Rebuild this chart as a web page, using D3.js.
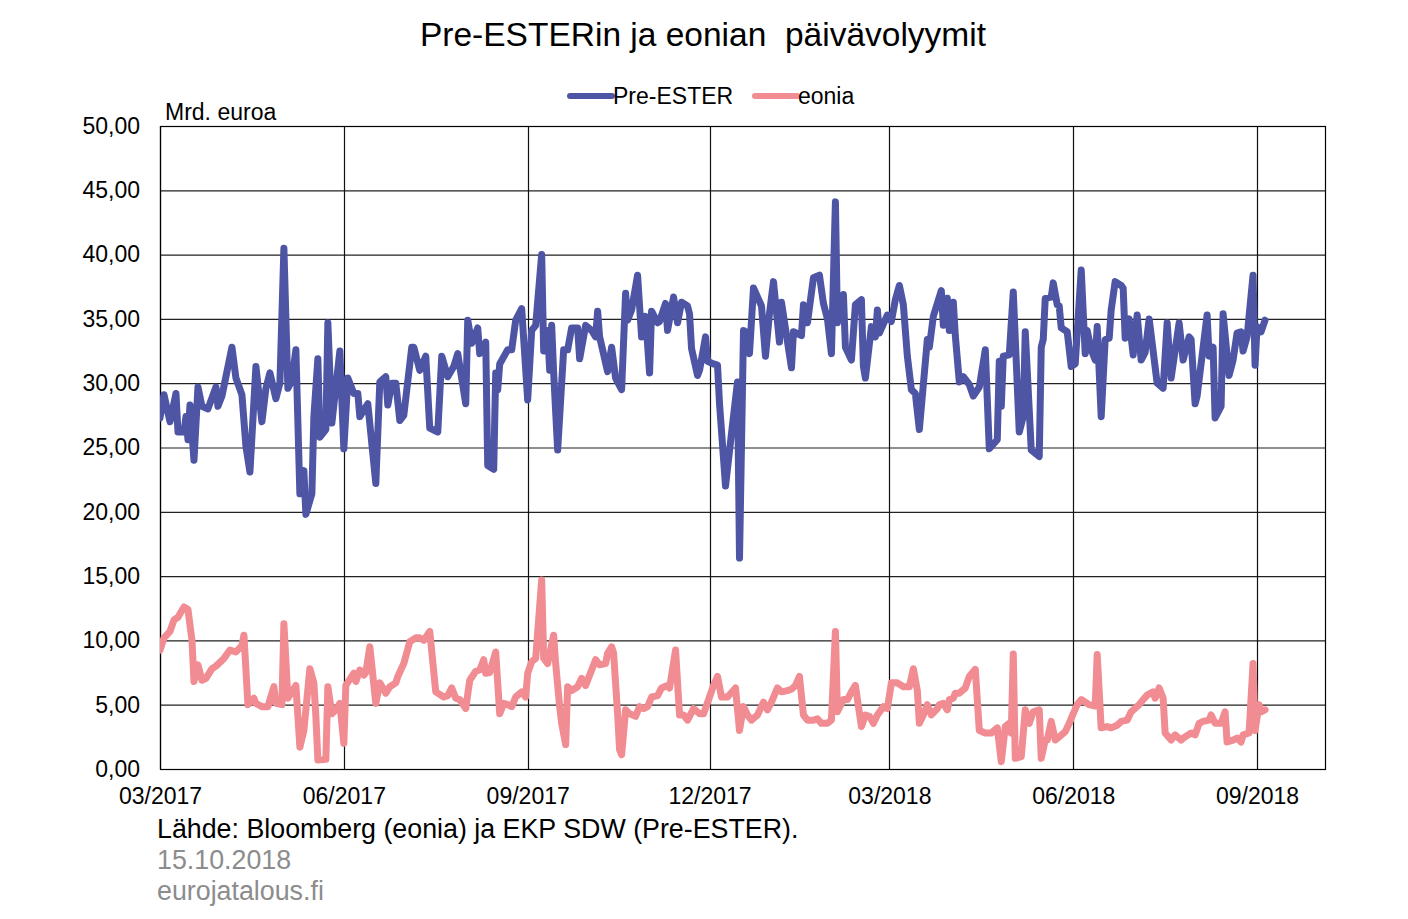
<!DOCTYPE html>
<html><head><meta charset="utf-8">
<script src="https://cdn.jsdelivr.net/npm/d3@7"></script>
<style>
html,body{margin:0;padding:0;background:#fff;}
svg{display:block;font-family:"Liberation Sans",Arial,sans-serif;}
</style></head>
<body>
<svg id="chart" width="1408" height="919"></svg>
<script>
const titleText = "Pre-ESTERin ja eonian  päivävolyymit";
const seriesNames = ["Pre-ESTER", "eonia"];
const yUnit = "Mrd. euroa";
const yTicks = [0,5,10,15,20,25,30,35,40,45,50];
const xTickDates = ["2017-03-01","2017-06-01","2017-09-01","2017-12-01","2018-03-01","2018-06-01","2018-09-01"];
const xTickLabels = ["03/2017","06/2017","09/2017","12/2017","03/2018","06/2018","09/2018"];
const footerLines = ["Lähde: Bloomberg (eonia) ja EKP SDW (Pre-ESTER).","15.10.2018","eurojatalous.fi"];

const preEsterDates = ["2017-03-01","2017-03-03","2017-03-06","2017-03-09","2017-03-10","2017-03-13","2017-03-14","2017-03-15","2017-03-16","2017-03-18","2017-03-20","2017-03-22","2017-03-25","2017-03-29","2017-03-30","2017-04-01","2017-04-06","2017-04-08","2017-04-11","2017-04-13","2017-04-15","2017-04-18","2017-04-21","2017-04-23","2017-04-25","2017-04-28","2017-04-30","2017-05-02","2017-05-04","2017-05-06","2017-05-08","2017-05-10","2017-05-12","2017-05-13","2017-05-16","2017-05-17","2017-05-19","2017-05-20","2017-05-23","2017-05-24","2017-05-26","2017-05-28","2017-05-30","2017-06-01","2017-06-03","2017-06-06","2017-06-08","2017-06-09","2017-06-11","2017-06-13","2017-06-17","2017-06-19","2017-06-22","2017-06-23","2017-06-25","2017-06-27","2017-06-29","2017-07-01","2017-07-05","2017-07-06","2017-07-09","2017-07-12","2017-07-14","2017-07-18","2017-07-20","2017-07-23","2017-07-26","2017-07-28","2017-08-01","2017-08-02","2017-08-04","2017-08-07","2017-08-08","2017-08-11","2017-08-12","2017-08-15","2017-08-16","2017-08-17","2017-08-18","2017-08-22","2017-08-24","2017-08-26","2017-08-29","2017-09-01","2017-09-03","2017-09-05","2017-09-08","2017-09-09","2017-09-11","2017-09-12","2017-09-13","2017-09-14","2017-09-16","2017-09-19","2017-09-21","2017-09-23","2017-09-26","2017-09-27","2017-09-30","2017-10-03","2017-10-05","2017-10-06","2017-10-07","2017-10-11","2017-10-13","2017-10-15","2017-10-18","2017-10-20","2017-10-21","2017-10-23","2017-10-26","2017-10-28","2017-10-30","2017-11-01","2017-11-02","2017-11-05","2017-11-06","2017-11-09","2017-11-10","2017-11-13","2017-11-15","2017-11-17","2017-11-20","2017-11-21","2017-11-22","2017-11-25","2017-11-26","2017-11-29","2017-11-30","2017-12-03","2017-12-05","2017-12-06","2017-12-09","2017-12-12","2017-12-15","2017-12-16","2017-12-18","2017-12-19","2017-12-21","2017-12-23","2017-12-27","2017-12-29","2017-12-31","2018-01-02","2018-01-05","2018-01-06","2018-01-11","2018-01-12","2018-01-16","2018-01-17","2018-01-19","2018-01-22","2018-01-25","2018-01-27","2018-01-29","2018-01-31","2018-02-02","2018-02-03","2018-02-06","2018-02-07","2018-02-10","2018-02-12","2018-02-15","2018-02-16","2018-02-17","2018-02-20","2018-02-22","2018-02-23","2018-02-24","2018-02-28","2018-03-02","2018-03-04","2018-03-06","2018-03-08","2018-03-10","2018-03-12","2018-03-14","2018-03-16","2018-03-20","2018-03-21","2018-03-23","2018-03-27","2018-03-28","2018-03-30","2018-03-31","2018-04-02","2018-04-03","2018-04-05","2018-04-07","2018-04-10","2018-04-12","2018-04-15","2018-04-18","2018-04-20","2018-04-24","2018-04-25","2018-04-26","2018-04-27","2018-04-30","2018-05-02","2018-05-05","2018-05-07","2018-05-08","2018-05-10","2018-05-11","2018-05-15","2018-05-16","2018-05-17","2018-05-18","2018-05-21","2018-05-22","2018-05-24","2018-05-25","2018-05-26","2018-05-29","2018-05-31","2018-06-02","2018-06-05","2018-06-07","2018-06-08","2018-06-10","2018-06-12","2018-06-13","2018-06-15","2018-06-17","2018-06-19","2018-06-20","2018-06-22","2018-06-25","2018-06-26","2018-06-27","2018-06-29","2018-07-01","2018-07-03","2018-07-05","2018-07-07","2018-07-09","2018-07-13","2018-07-16","2018-07-18","2018-07-20","2018-07-24","2018-07-26","2018-07-29","2018-07-30","2018-08-01","2018-08-02","2018-08-07","2018-08-08","2018-08-10","2018-08-11","2018-08-14","2018-08-15","2018-08-18","2018-08-20","2018-08-22","2018-08-24","2018-08-25","2018-08-27","2018-08-30","2018-08-31","2018-09-01","2018-09-03","2018-09-05"];
const preEsterValues = [27.3,29.1,27.0,29.2,26.2,26.2,27.4,25.6,28.3,24.0,29.7,28.2,28.0,29.7,28.2,29.0,32.8,30.4,29.1,25.1,23.1,31.3,27.0,29.6,30.8,28.8,30.0,40.5,29.6,30.2,32.6,21.4,23.2,19.8,21.4,27.4,31.9,25.8,26.4,34.7,26.9,29.7,32.5,24.9,30.4,29.2,29.2,27.4,27.9,28.4,22.2,30.1,30.5,28.3,30.0,30.0,27.1,27.5,32.8,32.8,31.0,32.1,26.5,26.2,32.1,30.5,31.3,32.3,28.4,34.9,33.1,34.3,32.3,33.2,23.6,23.3,30.8,29.5,31.5,32.6,32.6,34.9,35.8,28.7,34.1,34.5,40.0,32.5,34.1,31.0,34.5,30.8,24.8,32.6,32.6,34.3,34.3,31.9,34.5,34.1,33.6,35.6,33.6,30.9,32.8,30.4,29.5,37.0,34.9,35.7,38.4,33.6,35.2,30.8,35.6,34.7,34.8,36.2,34.1,36.7,34.7,36.3,36.0,35.4,32.7,30.6,31.0,33.6,31.7,31.5,31.4,28.4,22.0,26.1,30.1,16.4,34.1,34.0,32.3,37.4,36.0,32.1,35.4,37.9,33.2,36.3,31.2,34.0,33.7,36.1,34.7,38.2,38.4,36.2,35.0,32.3,44.1,34.7,36.9,32.8,31.8,36.1,36.5,31.3,30.4,34.4,33.6,35.7,33.9,35.3,34.8,36.5,37.6,36.1,32.1,29.5,29.2,26.4,33.4,32.8,35.2,37.2,34.5,36.6,34.1,36.3,33.7,30.1,30.5,29.9,29.0,29.7,32.6,24.9,25.6,31.7,28.2,32.1,32.2,37.1,26.2,27.4,34.0,27.9,24.8,24.3,32.8,33.4,36.6,36.7,37.8,36.1,36.0,34.3,34.0,31.3,31.5,38.8,32.3,34.1,32.6,31.8,34.4,27.4,33.4,33.5,35.7,37.9,37.6,37.4,33.5,35.0,32.2,35.3,31.8,32.4,35.0,30.0,29.6,34.7,30.4,34.7,31.8,33.6,33.4,28.4,29.0,35.3,32.1,32.8,27.3,28.2,35.4,30.6,31.8,33.9,34.0,32.5,33.6,38.4,31.4,34.4,34.0,34.9];

const eoniaDates = ["2017-03-01","2017-03-03","2017-03-06","2017-03-08","2017-03-10","2017-03-13","2017-03-15","2017-03-17","2017-03-18","2017-03-20","2017-03-22","2017-03-24","2017-03-27","2017-03-29","2017-04-02","2017-04-05","2017-04-08","2017-04-11","2017-04-12","2017-04-14","2017-04-17","2017-04-18","2017-04-21","2017-04-24","2017-04-27","2017-04-28","2017-05-01","2017-05-02","2017-05-04","2017-05-06","2017-05-08","2017-05-10","2017-05-12","2017-05-15","2017-05-17","2017-05-18","2017-05-19","2017-05-23","2017-05-24","2017-05-26","2017-05-28","2017-05-30","2017-06-01","2017-06-02","2017-06-06","2017-06-07","2017-06-09","2017-06-11","2017-06-12","2017-06-14","2017-06-17","2017-06-19","2017-06-22","2017-06-24","2017-06-27","2017-06-28","2017-07-01","2017-07-04","2017-07-07","2017-07-09","2017-07-11","2017-07-14","2017-07-17","2017-07-21","2017-07-23","2017-07-25","2017-07-27","2017-07-29","2017-08-01","2017-08-03","2017-08-06","2017-08-08","2017-08-10","2017-08-11","2017-08-13","2017-08-16","2017-08-18","2017-08-20","2017-08-22","2017-08-24","2017-08-26","2017-08-29","2017-08-31","2017-09-01","2017-09-03","2017-09-05","2017-09-08","2017-09-09","2017-09-11","2017-09-14","2017-09-15","2017-09-17","2017-09-18","2017-09-20","2017-09-21","2017-09-23","2017-09-26","2017-09-28","2017-09-30","2017-10-03","2017-10-05","2017-10-07","2017-10-10","2017-10-11","2017-10-13","2017-10-14","2017-10-16","2017-10-17","2017-10-18","2017-10-20","2017-10-22","2017-10-25","2017-10-27","2017-10-29","2017-10-31","2017-11-02","2017-11-05","2017-11-07","2017-11-10","2017-11-11","2017-11-14","2017-11-16","2017-11-18","2017-11-20","2017-11-23","2017-11-26","2017-11-28","2017-12-01","2017-12-03","2017-12-05","2017-12-07","2017-12-10","2017-12-14","2017-12-16","2017-12-18","2017-12-20","2017-12-22","2017-12-25","2017-12-28","2017-12-30","2018-01-01","2018-01-04","2018-01-06","2018-01-09","2018-01-11","2018-01-13","2018-01-15","2018-01-17","2018-01-19","2018-01-22","2018-01-24","2018-01-26","2018-01-29","2018-01-31","2018-02-02","2018-02-03","2018-02-06","2018-02-08","2018-02-10","2018-02-12","2018-02-15","2018-02-17","2018-02-19","2018-02-21","2018-02-23","2018-02-26","2018-02-28","2018-03-02","2018-03-05","2018-03-08","2018-03-11","2018-03-13","2018-03-15","2018-03-16","2018-03-18","2018-03-20","2018-03-22","2018-03-25","2018-03-26","2018-03-28","2018-03-30","2018-03-31","2018-04-02","2018-04-03","2018-04-05","2018-04-08","2018-04-10","2018-04-13","2018-04-15","2018-04-18","2018-04-21","2018-04-24","2018-04-26","2018-04-28","2018-04-30","2018-05-01","2018-05-02","2018-05-03","2018-05-06","2018-05-08","2018-05-10","2018-05-12","2018-05-15","2018-05-16","2018-05-18","2018-05-19","2018-05-21","2018-05-23","2018-05-25","2018-05-28","2018-05-30","2018-06-01","2018-06-03","2018-06-05","2018-06-08","2018-06-09","2018-06-12","2018-06-13","2018-06-15","2018-06-18","2018-06-20","2018-06-23","2018-06-25","2018-06-28","2018-06-30","2018-07-04","2018-07-06","2018-07-08","2018-07-11","2018-07-12","2018-07-14","2018-07-16","2018-07-17","2018-07-20","2018-07-22","2018-07-25","2018-07-27","2018-07-30","2018-08-01","2018-08-03","2018-08-05","2018-08-08","2018-08-09","2018-08-11","2018-08-14","2018-08-16","2018-08-17","2018-08-20","2018-08-22","2018-08-24","2018-08-25","2018-08-28","2018-08-30","2018-08-31","2018-09-02","2018-09-03","2018-09-05"];
const eoniaValues = [9.25,10.2,10.7,11.6,11.8,12.6,12.4,10.0,6.8,8.1,6.9,7.05,7.8,8.0,8.6,9.25,9.1,9.6,10.4,5.0,5.5,5.1,4.85,4.85,6.4,5.1,5.0,11.3,5.5,6.0,6.5,1.7,3.0,7.8,6.7,4.1,0.7,0.75,6.4,4.3,4.6,5.1,2.0,6.5,7.45,6.8,7.7,7.3,7.5,9.5,5.1,6.7,5.9,6.4,6.7,7.2,8.2,9.9,10.2,10.2,10.0,10.7,6.0,5.6,5.7,6.3,5.5,5.4,4.7,6.9,7.6,7.7,8.5,7.45,7.5,9.1,4.3,5.1,5.0,4.85,5.6,6.0,5.6,7.45,8.35,8.6,14.7,8.6,8.2,10.4,8.2,4.85,3.55,1.9,6.4,6.1,6.4,7.05,6.5,7.7,8.5,8.1,8.2,9.0,9.5,9.0,4.3,1.5,1.1,4.6,4.3,4.1,4.85,4.7,4.85,5.6,5.7,6.3,6.5,6.3,9.25,4.2,4.2,3.8,4.7,4.3,4.3,5.6,6.5,7.2,5.6,5.6,6.3,3.0,4.85,4.2,3.8,4.2,5.2,4.6,5.2,6.3,6.0,6.1,6.2,6.5,7.2,4.2,3.8,3.8,3.9,3.55,3.55,3.8,10.7,4.45,5.4,5.4,6.0,6.5,3.3,4.2,4.1,3.55,4.2,4.85,4.7,6.7,6.7,6.4,6.4,7.8,6.1,3.55,4.2,5.0,4.2,4.7,5.0,5.1,4.6,5.4,5.5,5.9,5.9,6.3,7.2,7.75,3.0,2.8,2.8,3.2,0.57,3.3,3.55,2.8,8.95,0.83,0.96,4.6,3.55,4.45,4.6,0.83,2.25,2.25,3.7,2.25,2.5,2.9,3.55,4.3,5.0,5.4,5.1,5.0,4.9,8.9,3.2,3.3,3.2,3.4,3.7,3.8,4.45,5.0,5.4,5.75,6.0,5.5,6.3,5.5,2.8,2.25,2.65,2.25,2.5,2.8,2.65,3.55,3.7,3.8,4.2,3.55,3.55,4.45,2.1,2.25,2.4,2.1,2.65,2.8,8.2,3.0,5.0,4.45,4.6];

const colors = {pre: "#4d55a4", eonia: "#f08c92"};

const svg = d3.select("#chart");
const W = 1408, H = 919;
const m = {left: 160, right: W - 1325, top: 126, bottom: H - 769};
const parse = d3.timeParse("%Y-%m-%d");
const FONT = "Liberation Sans, Arial, sans-serif";

const x = d3.scaleTime()
  .domain([parse("2017-03-01"), parse("2018-10-05")])
  .range([m.left, W - m.right]);
const y = d3.scaleLinear().domain([0, 50]).range([H - m.bottom, m.top]);

// title
svg.append("text").attr("x", 703).attr("y", 46).attr("text-anchor", "middle")
  .attr("font-size", 33.5).attr("fill", "#000").attr("xml:space", "preserve")
  .style("white-space", "pre").text(titleText);

// legend
const legend = [
  {name: seriesNames[0], color: colors.pre, x0: 570},
  {name: seriesNames[1], color: colors.eonia, x0: 755}
];
legend.forEach(l => {
  svg.append("line").attr("x1", l.x0).attr("x2", l.x0 + 42).attr("y1", 96).attr("y2", 96)
    .attr("stroke", l.color).attr("stroke-width", 6).attr("stroke-linecap", "round");
  svg.append("text").attr("x", l.x0 + 43).attr("y", 104).attr("font-size", 23).attr("fill", "#000").text(l.name);
});

// unit
svg.append("text").attr("x", 165).attr("y", 120).attr("font-size", 23).attr("fill", "#000").text(yUnit);

// grid
const g = svg.append("g");
g.selectAll(".hg").data(yTicks).join("line")
  .attr("x1", m.left).attr("x2", W - m.right)
  .attr("y1", d => y(d) + 0.5).attr("y2", d => y(d) + 0.5)
  .attr("stroke", "#222").attr("stroke-width", 1.2);
g.selectAll(".vg").data(xTickDates).join("line")
  .attr("x1", d => Math.round(x(parse(d))) + 0.5).attr("x2", d => Math.round(x(parse(d))) + 0.5)
  .attr("y1", m.top).attr("y2", H - m.bottom)
  .attr("stroke", "#111").attr("stroke-width", 1.2);
g.append("rect").attr("x", m.left + 0.5).attr("y", m.top + 0.5)
  .attr("width", W - m.right - m.left).attr("height", H - m.bottom - m.top)
  .attr("fill", "none").attr("stroke", "#000").attr("stroke-width", 1.2);

// y axis labels
const fmt = v => d3.format(".2f")(v).replace(".", ",");
const yAxis = d3.axisLeft(y).tickValues(yTicks).tickFormat(fmt).tickSize(0).tickPadding(20);
const ya = svg.append("g").attr("transform", `translate(${m.left},0)`).call(yAxis);
ya.select(".domain").remove();
ya.selectAll("text").attr("font-size", 23).attr("fill", "#000").attr("font-family", FONT);

// x axis labels
const xAxis = d3.axisBottom(x).tickValues(xTickDates.map(parse))
  .tickFormat((d, i) => xTickLabels[i]).tickSize(0).tickPadding(19);
const xa = svg.append("g").attr("transform", `translate(0,${H - m.bottom})`).call(xAxis);
xa.select(".domain").remove();
xa.selectAll("text").attr("font-size", 23).attr("fill", "#000").attr("font-family", FONT);

// lines
svg.append("clipPath").attr("id", "plotclip").append("rect")
  .attr("x", m.left).attr("y", m.top - 5).attr("width", W - m.right - m.left).attr("height", H - m.bottom - m.top + 5);
const line = d3.line().x(d => x(d[0])).y(d => y(d[1]));
const preData = preEsterDates.map((d, i) => [parse(d), preEsterValues[i]]);
const eonData = eoniaDates.map((d, i) => [parse(d), eoniaValues[i]]);
const lg = svg.append("g").attr("clip-path", "url(#plotclip)");
lg.append("path").datum(preData).attr("d", line).attr("fill", "none")
  .attr("stroke", colors.pre).attr("stroke-width", 7).attr("stroke-linejoin", "round").attr("stroke-linecap", "round");
lg.append("path").datum(eonData).attr("d", line).attr("fill", "none")
  .attr("stroke", colors.eonia).attr("stroke-width", 7).attr("stroke-linejoin", "round").attr("stroke-linecap", "round");

// footer
svg.append("text").attr("x", 157).attr("y", 838).attr("font-size", 26.8).attr("fill", "#000").text(footerLines[0]);
svg.append("text").attr("x", 157).attr("y", 869).attr("font-size", 26.8).attr("fill", "#8c8c8c").text(footerLines[1]);
svg.append("text").attr("x", 157).attr("y", 900).attr("font-size", 26.8).attr("fill", "#8c8c8c").text(footerLines[2]);
</script>
</body></html>
